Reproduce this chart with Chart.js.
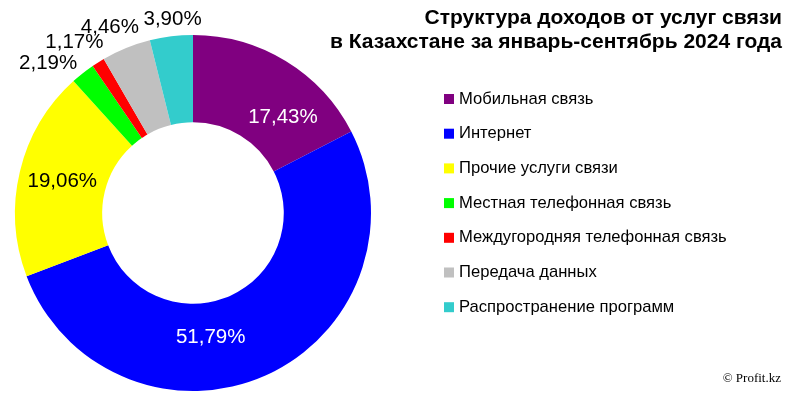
<!DOCTYPE html>
<html>
<head>
<meta charset="utf-8">
<script src="https://cdn.jsdelivr.net/npm/chart.js@4/dist/chart.umd.min.js"></script>
<style>
  html, body { margin: 0; padding: 0; background: #fff; }
  #wrap { width: 800px; height: 400px; }
</style>
</head>
<body>
<div id="wrap"><canvas id="chart" width="800" height="400"></canvas></div>
<script>
const categories = [
  'Мобильная связь',
  'Интернет',
  'Прочие услуги связи',
  'Местная телефонная связь',
  'Междугородняя телефонная связь',
  'Передача данных',
  'Распространение программ',
];
const shares = [17.43, 51.79, 19.06, 2.19, 1.17, 4.46, 3.90];
const colors = ['#800080', '#0000FF', '#FFFF00', '#00FF00', '#FF0000', '#C0C0C0', '#33CCCC'];
const titleLines = ['Структура доходов от услуг связи', 'в Казахстане за январь-сентябрь 2024 года'];

// label placement: inside (mid ring) or outside, plus small nudges like the Excel original
const labelOutside = [false, false, false, true, true, true, true];
const labelColor = ['#fff', '#fff', '#000', '#000', '#000', '#000', '#000'];
const labelNudge = [[20, 19], [-37, 2], [0, 0], [-21, 7], [-12, -1], [-8, 0], [4, 5]];

const FONT = '"Liberation Sans", Arial, sans-serif';

function fmt(v) {
  return v.toFixed(2).replace('.', ',') + '%';
}

const extras = {
  id: 'extras',
  afterDraw(chart) {
    const ctx = chart.ctx;
    const meta = chart.getDatasetMeta(0);
    ctx.save();

    // slice labels
    ctx.font = '20.5px ' + FONT;
    ctx.textAlign = 'center';
    ctx.textBaseline = 'middle';
    meta.data.forEach((arc, i) => {
      const p = arc.getProps(['x', 'y', 'startAngle', 'endAngle', 'innerRadius', 'outerRadius'], true);
      const mid = (p.startAngle + p.endAngle) / 2;
      const r = labelOutside[i] ? p.outerRadius + 22 : (p.innerRadius + p.outerRadius) / 2;
      const x = p.x + Math.cos(mid) * r + labelNudge[i][0];
      const y = p.y + Math.sin(mid) * r + labelNudge[i][1];
      ctx.fillStyle = labelColor[i];
      ctx.fillText(fmt(shares[i]), x, y);
    });

    // title
    ctx.fillStyle = '#000';
    ctx.font = 'bold 21px ' + FONT;
    ctx.textAlign = 'right';
    titleLines.forEach((t, i) => ctx.fillText(t, 782, 18 + i * 24));

    // legend
    ctx.font = '16.6px ' + FONT;
    ctx.textAlign = 'left';
    categories.forEach((c, i) => {
      const y = 99 + i * 34.7;
      ctx.fillStyle = colors[i];
      ctx.fillRect(444, y - 5, 10, 10);
      ctx.fillStyle = '#000';
      ctx.fillText(c, 459, y);
    });

    // credit
    ctx.font = '13px "Liberation Serif", serif';
    ctx.textAlign = 'right';
    ctx.fillText('© Profit.kz', 781, 379);

    ctx.restore();
  },
};

const config = {
  type: 'doughnut',
  data: {
    labels: categories,
    datasets: [
      {
        data: shares,
        backgroundColor: colors,
        borderWidth: 0,
      },
    ],
  },
  options: {
    responsive: false,
    animation: false,
    cutout: '51%',
    layout: {
      padding: { left: 15, top: 35, right: 429, bottom: 9 },
    },
    plugins: {
      legend: { display: false },
      tooltip: { enabled: false },
    },
  },
  plugins: [extras],
};

const myChart = new Chart(document.getElementById('chart'), config);
</script>
</body>
</html>
